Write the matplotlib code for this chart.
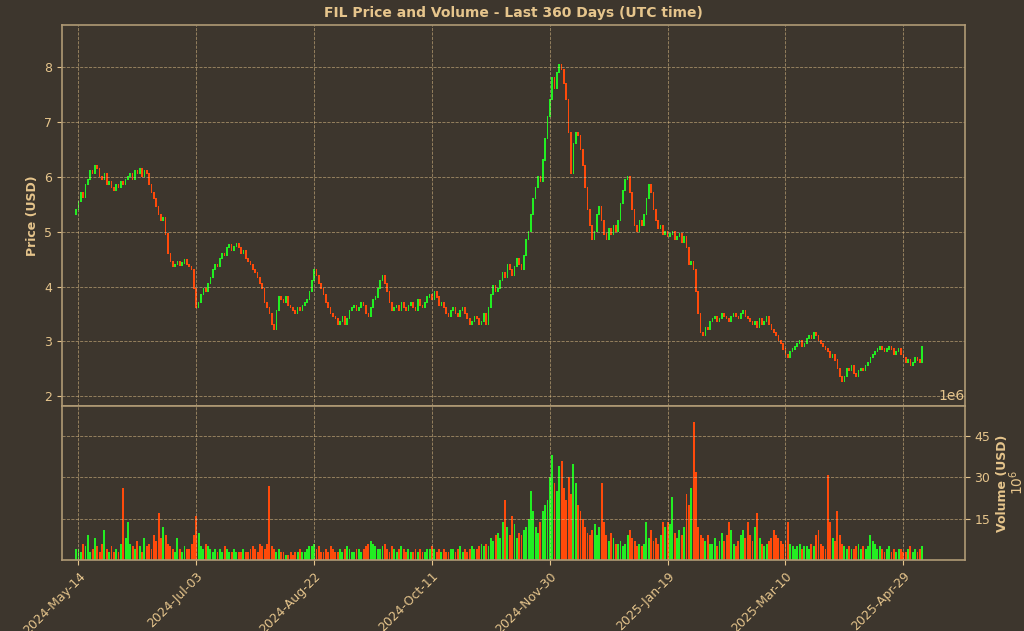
import numpy as np
import pandas as pd
import matplotlib
matplotlib.use("Agg")
import matplotlib.pyplot as plt
import matplotlib.dates as mdates
from matplotlib.ticker import FuncFormatter

# Daily close prices (USD)
closes = [
    5.40, 5.55, 5.70, 5.62, 5.85, 5.95, 6.10, 6.05, 6.20, 6.15,
    6.00, 5.95, 6.05, 5.85, 5.90, 5.80, 5.75, 5.85, 5.80, 5.90,
    5.85, 5.95, 6.00, 6.05, 5.95, 6.10, 6.05, 6.15, 6.00, 6.10,
    6.05, 5.85, 5.70, 5.60, 5.45, 5.30, 5.20, 5.25, 4.95, 4.60,
    4.45, 4.35, 4.40, 4.45, 4.38, 4.42, 4.48, 4.40, 4.35, 4.30,
    3.95, 3.60, 3.70, 3.85, 3.95, 3.90, 4.05, 4.15, 4.30, 4.40,
    4.35, 4.50, 4.60, 4.55, 4.70, 4.75, 4.65, 4.72, 4.78, 4.70,
    4.60, 4.65, 4.50, 4.45, 4.40, 4.30, 4.25, 4.15, 4.05, 3.95,
    3.70, 3.60, 3.50, 3.30, 3.20, 3.55, 3.80, 3.75, 3.70, 3.80,
    3.65, 3.60, 3.55, 3.50, 3.60, 3.55, 3.65, 3.70, 3.75, 3.90,
    4.10, 4.30, 4.20, 4.05, 3.95, 3.85, 3.70, 3.60, 3.50, 3.45,
    3.40, 3.30, 3.35, 3.45, 3.30, 3.40, 3.55, 3.60, 3.65, 3.55,
    3.60, 3.70, 3.65, 3.50, 3.45, 3.60, 3.75, 3.80, 3.95, 4.10,
    4.20, 4.05, 3.90, 3.70, 3.55, 3.60, 3.65, 3.55, 3.70, 3.60,
    3.55, 3.65, 3.70, 3.60, 3.55, 3.75, 3.65, 3.60, 3.70, 3.80,
    3.85, 3.75, 3.90, 3.80, 3.65, 3.70, 3.60, 3.50, 3.45, 3.55,
    3.60, 3.50, 3.45, 3.55, 3.60, 3.50, 3.40, 3.30, 3.35, 3.45,
    3.40, 3.30, 3.35, 3.50, 3.30, 3.60, 3.85, 4.00, 3.90, 3.95,
    4.10, 4.25, 4.15, 4.40, 4.30, 4.20, 4.35, 4.50, 4.40, 4.30,
    4.55, 4.85, 5.00, 5.30, 5.60, 5.80, 6.00, 5.90, 6.30, 6.70,
    7.10, 7.40, 7.80, 7.60, 7.90, 8.05, 7.95, 7.70, 7.40, 6.80,
    6.05, 6.60, 6.80, 6.75, 6.50, 6.20, 5.80, 5.40, 5.10, 4.85,
    5.00, 5.30, 5.45, 5.20, 4.95, 4.85, 5.05, 4.95, 5.10, 5.00,
    5.20, 5.50, 5.75, 5.95, 6.00, 5.70, 5.40, 5.10, 5.00, 5.20,
    5.10, 5.30, 5.60, 5.85, 5.70, 5.40, 5.20, 5.05, 5.10, 4.95,
    5.00, 4.90, 4.95, 5.00, 4.85, 4.90, 4.95, 4.80, 4.90, 4.70,
    4.40, 4.45, 4.30, 3.90, 3.50, 3.15, 3.10, 3.25, 3.20, 3.35,
    3.40, 3.45, 3.35, 3.40, 3.50, 3.45, 3.40, 3.35, 3.45, 3.50,
    3.45, 3.40, 3.50, 3.55, 3.45, 3.40, 3.35, 3.30, 3.35, 3.25,
    3.40, 3.30, 3.35, 3.45, 3.30, 3.20, 3.15, 3.10, 3.00, 2.95,
    2.85, 2.75, 2.70, 2.80, 2.85, 2.90, 2.95, 3.00, 2.90, 2.95,
    3.05, 3.10, 3.05, 3.15, 3.10, 3.00, 2.95, 2.90, 2.85, 2.80,
    2.70, 2.75, 2.65, 2.50, 2.35, 2.25, 2.35, 2.50, 2.45, 2.55,
    2.40, 2.35, 2.45, 2.50, 2.45, 2.55, 2.60, 2.70, 2.75, 2.80,
    2.85, 2.90, 2.85, 2.80, 2.85, 2.90, 2.85, 2.75, 2.80, 2.85,
    2.75, 2.70, 2.60, 2.65, 2.55, 2.60, 2.70, 2.65, 2.60, 2.90,
]
first_open = 5.30

# Daily volume (millions of USD)
volumes_m = [
    4, 4, 3, 6, 5, 9, 3, 4, 8, 5,
    3, 6, 11, 4, 3, 5, 3, 4, 3, 6,
    26, 8, 14, 6, 5, 4, 7, 5, 3, 8,
    5, 6, 4, 9, 7, 17, 8, 12, 9, 6,
    5, 4, 3, 8, 4, 3, 5, 4, 4, 6,
    9, 16, 10, 5, 4, 6, 5, 4, 3, 4,
    3, 4, 3, 5, 4, 3, 3, 4, 3, 3,
    3, 4, 3, 3, 4, 5, 4, 3, 6, 5,
    4, 6, 27, 5, 4, 3, 4, 3, 3, 2,
    2, 3, 2, 3, 3, 4, 3, 3, 4, 5,
    5, 6, 4, 5, 3, 3, 4, 3, 5, 4,
    3, 3, 4, 3, 4, 5, 4, 3, 3, 4,
    4, 3, 4, 5, 6, 7, 6, 5, 4, 4,
    5, 6, 4, 3, 5, 4, 3, 4, 5, 4,
    3, 4, 3, 3, 4, 3, 4, 3, 3, 4,
    4, 5, 4, 3, 4, 3, 4, 3, 3, 4,
    4, 3, 4, 5, 3, 4, 3, 4, 5, 4,
    4, 5, 6, 5, 6, 5, 8, 7, 9, 10,
    8, 14, 22, 12, 9, 16, 13, 8, 10, 9,
    11, 12, 15, 25, 18, 12, 10, 14, 18, 20,
    22, 30, 38, 28, 25, 34, 36, 26, 22, 30,
    24, 35, 28, 20, 18, 15, 12, 10, 9, 11,
    13, 9, 12, 28, 14, 9, 7, 10, 8, 6,
    6, 7, 5, 6, 9, 11, 8, 7, 5, 6,
    5, 6, 14, 8, 11, 7, 8, 6, 9, 14,
    12, 14, 13, 23, 10, 8, 11, 9, 12, 24,
    20, 26, 50, 32, 12, 9, 8, 7, 9, 6,
    6, 8, 5, 7, 10, 7, 9, 14, 11, 6,
    5, 7, 9, 11, 8, 14, 9, 7, 12, 17,
    8, 6, 5, 6, 7, 8, 11, 9, 8, 7,
    6, 7, 14, 6, 5, 4, 5, 6, 4, 5,
    5, 4, 6, 5, 9, 11, 6, 5, 4, 31,
    14, 8, 7, 18, 9, 6, 5, 4, 5, 4,
    4, 5, 6, 4, 5, 4, 5, 9, 7, 6,
    4, 5, 4, 3, 4, 5, 3, 4, 3, 4,
    4, 3, 3, 4, 5, 3, 4, 3, 4, 5,
]

tick_dates = ["2024-05-14", "2024-07-03", "2024-08-22", "2024-10-11",
              "2024-11-30", "2025-01-19", "2025-03-10", "2025-04-29"]
tick_labels = ["2024-May-14", "2024-Jul-03", "2024-Aug-22", "2024-Oct-11",
               "2024-Nov-30", "2025-Jan-19", "2025-Mar-10", "2025-Apr-29"]

bg = "#3d362d"
fg = "#e6c58c"
up = "#22ee22"
down = "#ff4a0a"

dates = pd.date_range("2024-05-13", periods=len(closes), freq="D")
x = mdates.date2num(dates)
closes = np.array(closes)
opens = np.concatenate([[first_open], closes[:-1]])
vols = np.array(volumes_m) * 1e6
colors = [up if c >= o else down for o, c in zip(opens, closes)]

fig = plt.figure(figsize=(10.24, 6.31), dpi=100, facecolor=bg)
ax = fig.add_axes([0.0605, 0.3566, 0.8815, 0.6034], facecolor=bg)
axv = fig.add_axes([0.0605, 0.1125, 0.8815, 0.2441], facecolor=bg, sharex=ax)

# candle bodies
ax.bar(x, np.abs(closes - opens) + 0.02, bottom=np.minimum(opens, closes),
       width=0.7, color=colors, linewidth=0)
axv.bar(x, vols, width=0.8, color=colors, linewidth=0)

ax.set_ylim(1.82, 8.77)
axv.set_ylim(0, 56e6)
ax.set_xlim(x[0] - 6, x[-1] + 18)

axv.set_xticks(mdates.date2num(pd.to_datetime(tick_dates)))
axv.set_xticklabels(tick_labels, rotation=45, ha="right", rotation_mode="anchor", fontsize=9)
plt.setp(ax.get_xticklabels(), visible=False)

axv.yaxis.tick_right()
axv.yaxis.set_label_position("right")
axv.set_yticks([15e6, 30e6, 45e6])
axv.yaxis.set_major_formatter(FuncFormatter(lambda v, p: f"{v / 1e6:.0f}"))
axv.set_ylabel("Volume (USD)", color=fg, fontweight="bold", fontsize=9, labelpad=4)
fig.text(0.942, 0.362, "1e6", color=fg, fontsize=10, ha="right", va="bottom")
fig.text(0.993, 0.235, r"$10^6$", color=fg, rotation=90, fontsize=10, va="center", ha="center")

for a in (ax, axv):
    a.grid(True, color=fg, linestyle="--", linewidth=0.6, alpha=0.6)
    a.tick_params(colors=fg, labelsize=9)
    for s in a.spines.values():
        s.set_color("#b09a75")
        s.set_linewidth(1.2)
ax.set_ylabel("Price (USD)", color=fg, fontweight="bold", fontsize=9)
ax.set_title("FIL Price and Volume - Last 360 Days (UTC time)", color=fg,
             fontweight="bold", fontsize=10)

fig.savefig("out.png", dpi=100, facecolor=bg)
